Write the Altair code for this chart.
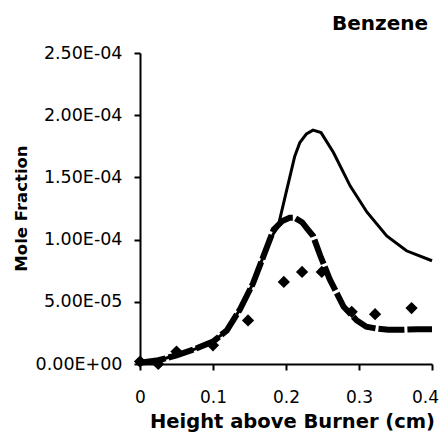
import altair as alt
import pandas as pd

# Model curve 1 (thin line), x in cm, mole fraction
thin_x = [0, 0.025, 0.05, 0.075, 0.1, 0.119, 0.137, 0.155, 0.169, 0.183, 0.189, 0.199,
          0.212, 0.219, 0.228, 0.237, 0.248, 0.265, 0.288, 0.311, 0.338, 0.365, 0.40]
thin_y = [0.01e-4, 0.03e-4, 0.07e-4, 0.12e-4, 0.18e-4, 0.27e-4, 0.44e-4, 0.65e-4, 0.865e-4,
          1.05e-4, 1.10e-4, 1.35e-4, 1.67e-4, 1.78e-4, 1.85e-4, 1.88e-4, 1.86e-4, 1.70e-4,
          1.43e-4, 1.22e-4, 1.03e-4, 0.91e-4, 0.83e-4]

# Model curve 2 (thick dashed line)
thick_x = [0, 0.025, 0.05, 0.075, 0.1, 0.119, 0.137, 0.155, 0.169, 0.183, 0.195, 0.205,
           0.212, 0.222, 0.23, 0.237, 0.247, 0.26, 0.279, 0.297, 0.31, 0.324, 0.34, 0.36,
           0.38, 0.40]
thick_y = [0.01e-4, 0.03e-4, 0.07e-4, 0.12e-4, 0.18e-4, 0.27e-4, 0.44e-4, 0.65e-4, 0.865e-4,
           1.08e-4, 1.15e-4, 1.175e-4, 1.175e-4, 1.14e-4, 1.08e-4, 1.03e-4, 0.87e-4, 0.68e-4,
           0.46e-4, 0.35e-4, 0.30e-4, 0.285e-4, 0.275e-4, 0.275e-4, 0.28e-4, 0.28e-4]

# Experimental points (diamonds)
exp_x = [0, 0.025, 0.05, 0.1, 0.148, 0.197, 0.222, 0.249, 0.29, 0.322, 0.372]
exp_y = [0.02e-4, 0.0, 0.10e-4, 0.15e-4, 0.35e-4, 0.66e-4, 0.74e-4, 0.74e-4, 0.42e-4,
         0.40e-4, 0.45e-4]

x_ticks = [0, 0.1, 0.2, 0.3, 0.4]
y_ticks = [0, 5e-5, 1e-4, 1.5e-4, 2e-4, 2.5e-4]
y_tick_labels = ["0.00E+00", "5.00E-05", "1.00E-04", "1.50E-04", "2.00E-04", "2.50E-04"]

thin_df = pd.DataFrame({"x": thin_x, "y": thin_y})
thick_df = pd.DataFrame({"x": thick_x, "y": thick_y})
exp_df = pd.DataFrame({"x": exp_x, "y": exp_y})

label_array = "[" + ",".join("'%s'" % s for s in y_tick_labels) + "]"

FONT = "DejaVu Sans"

x_enc = alt.X(
    "x:Q",
    scale=alt.Scale(domain=[0, 0.4], nice=False),
    axis=alt.Axis(
        title="Height above Burner (cm)",
        values=x_ticks,
        format="~g",
        grid=False,
        labelFlush=False,
        labelOffset={"condition": {"test": "datum.value >= 0.35", "value": -7}, "value": 0},
        domainColor="black",
        domainWidth=2,
        tickColor="black",
        tickWidth=2,
        tickSize=6,
        labelFont=FONT,
        labelFontSize=17,
        labelColor="black",
        labelPadding=19,
        titleFont=FONT,
        titleFontSize=19.5,
        titleFontWeight="bold",
        titleColor="black",
        titleX=152,
        titleY=63,
        titleBaseline="alphabetic",
        titleAlign="center",
    ),
)

y_enc = alt.Y(
    "y:Q",
    scale=alt.Scale(domain=[0, 2.5e-4], nice=False),
    axis=alt.Axis(
        title="Mole Fraction",
        values=y_ticks,
        labelExpr=label_array + "[round(datum.value / 0.00005)]",
        grid=False,
        domainColor="black",
        domainWidth=2,
        tickColor="black",
        tickWidth=2,
        tickSize=6,
        labelFont=FONT,
        labelFontSize=17.5,
        labelColor="black",
        labelPadding=12,
        titleFont=FONT,
        titleFontSize=16.5,
        titleFontWeight="bold",
        titleColor="black",
        titleAngle=270,
        titleX=-119,
        titleY=155,
        titleAlign="center",
        titleBaseline="middle",
    ),
)

thin = alt.Chart(thin_df).mark_line(color="black", strokeWidth=3).encode(
    x=x_enc, y=y_enc, order="x:Q"
)
thick = alt.Chart(thick_df).mark_line(
    color="black", strokeWidth=6, strokeDash=[26, 3], strokeCap="butt"
).encode(x="x:Q", y="y:Q", order="x:Q")
pts = alt.Chart(exp_df).mark_point(
    shape="diamond", filled=True, color="black", size=150, opacity=1
).encode(x="x:Q", y="y:Q")

chart = (
    alt.layer(thin, thick, pts)
    .properties(
        width=292,
        height=311,
        autosize=alt.AutoSizeParams(type="none"),
        padding={"left": 140, "top": 53, "right": 10, "bottom": 68},
        title=alt.TitleParams(
            "Benzene",
            anchor="end",
            font=FONT,
            fontSize=20,
            fontWeight="bold",
            color="black",
            offset=10,
            dx=-16,
        ),
        background="white",
    )
    .configure_view(stroke=None)
)

chart.save("out.html", embed_options={"renderer": "svg", "actions": False})
